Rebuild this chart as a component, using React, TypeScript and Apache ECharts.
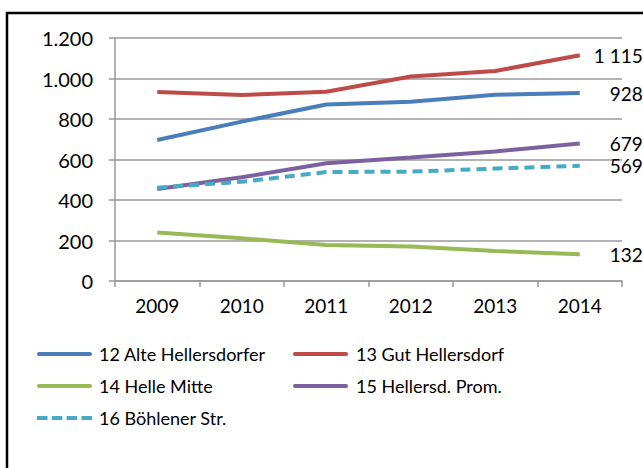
import React, { useEffect, useRef } from "react";
import * as echarts from "echarts";

const years = ["2009", "2010", "2011", "2012", "2013", "2014"];
const seriesNames = [
  "12 Alte Hellersdorfer",
  "13 Gut Hellersdorf",
  "14 Helle Mitte",
  "15 Hellersd. Prom.",
  "16 Böhlener Str.",
];
const alteHellersdorfer = [696, 787, 872, 885, 920, 928];
const gutHellersdorf = [933, 918, 935, 1010, 1037, 1115];
const helleMitte = [240, 211, 178, 170, 148, 132];
const hellersdProm = [454, 512, 581, 610, 640, 679];
const boehlenerStr = [461, 490, 538, 540, 555, 569];
const seriesValues = [alteHellersdorfer, gutHellersdorf, helleMitte, hellersdProm, boehlenerStr];
const colors = ["#4a7ebb", "#be4b48", "#98b954", "#7d60a0", "#46aac5"];

const FONT = "Lato";

const SOLID_ICON = "path://M2,0H53A2,2 0 0 1 53,4H2A2,2 0 0 1 2,0Z";
const DASH_ICON =
  "path://M0,0H10.5V4H0Z M14.83,0H25.33V4H14.83Z M29.67,0H40.17V4H29.67Z M44.5,0H55V4H44.5Z";

const fmtThousands = (v: number, sep: string) => {
  const s = String(Math.round(v));
  return s.replace(/\B(?=(\d{3})+(?!\d))/g, sep);
};

export default function App() {
  const ref = useRef<HTMLDivElement>(null);
  useEffect(() => {
    if (!ref.current) return;
    const chart = echarts.init(ref.current, undefined, { renderer: "svg" });
    const series = seriesNames.map((name, i) => ({
      name,
      type: "line",
      data: seriesValues[i],
      symbol: "none",
      showSymbol: false,
      lineStyle: {
        color: colors[i],
        width: 4,
        type: i === 4 ? [10, 6] : "solid",
        cap: "butt",
      },
      itemStyle: { color: colors[i] },
      label: { show: false },
      endLabel: {
        show: true,
        formatter: (p: any) => fmtThousands(p.value, " "),
        fontFamily: FONT,
        fontSize: 19,
        color: "#000",
        align: "right",
        distance: 63,
      },
      z: i === 4 ? 3 : 2,
    }));
    const legendItem = (i: number) => ({
      name: seriesNames[i],
      icon: i === 4 ? DASH_ICON : SOLID_ICON,
      itemStyle: { color: colors[i] },
    });
    const legendText = { fontFamily: FONT, fontSize: 18, color: "#000", padding: [0, 0, 0, 2] };
    chart.setOption({
      animation: false,
      textStyle: { fontFamily: FONT },
      graphic: [
        {
          type: "rect",
          shape: { x: 7, y: 13, width: 800, height: 600 },
          style: { fill: "none", stroke: "#000", lineWidth: 2.5 },
          silent: true,
        },
      ],
      grid: { left: 115, right: 21, top: 38, bottom: 187 },
      legend: [
        {
          data: [legendItem(0), legendItem(2), legendItem(4)],
          orient: "vertical",
          left: 37,
          top: 345,
          padding: 0,
          itemWidth: 55,
          itemHeight: 4,
          itemGap: 14,
          textStyle: legendText,
        },
        {
          data: [legendItem(1), legendItem(3)],
          orient: "vertical",
          left: 293,
          top: 345,
          padding: 0,
          itemWidth: 57,
          itemHeight: 4,
          itemGap: 14,
          textStyle: legendText,
        },
      ],
      xAxis: {
        type: "category",
        data: years,
        boundaryGap: true,
        axisLine: { lineStyle: { color: "#999", width: 1.5 } },
        axisTick: { show: true, length: 6, lineStyle: { color: "#999", width: 1.5 } },
        axisLabel: { color: "#000", fontFamily: FONT, fontSize: 19, margin: 15 },
      },
      yAxis: {
        type: "value",
        min: 0,
        max: 1200,
        interval: 200,
        axisLine: { show: true, lineStyle: { color: "#999", width: 1.5 } },
        axisTick: { show: true, length: 6, lineStyle: { color: "#999", width: 1.5 } },
        splitLine: { lineStyle: { color: "#999", width: 1.5 } },
        axisLabel: {
          color: "#000",
          fontFamily: FONT,
          fontSize: 20,
          margin: 22,
          formatter: (v: number) => fmtThousands(v, "."),
        },
      },
      series,
    });
    return () => chart.dispose();
  }, []);
  return <div ref={ref} style={{ width: 643, height: 468, position: "absolute", left: 0, top: 0 }} />;
}
